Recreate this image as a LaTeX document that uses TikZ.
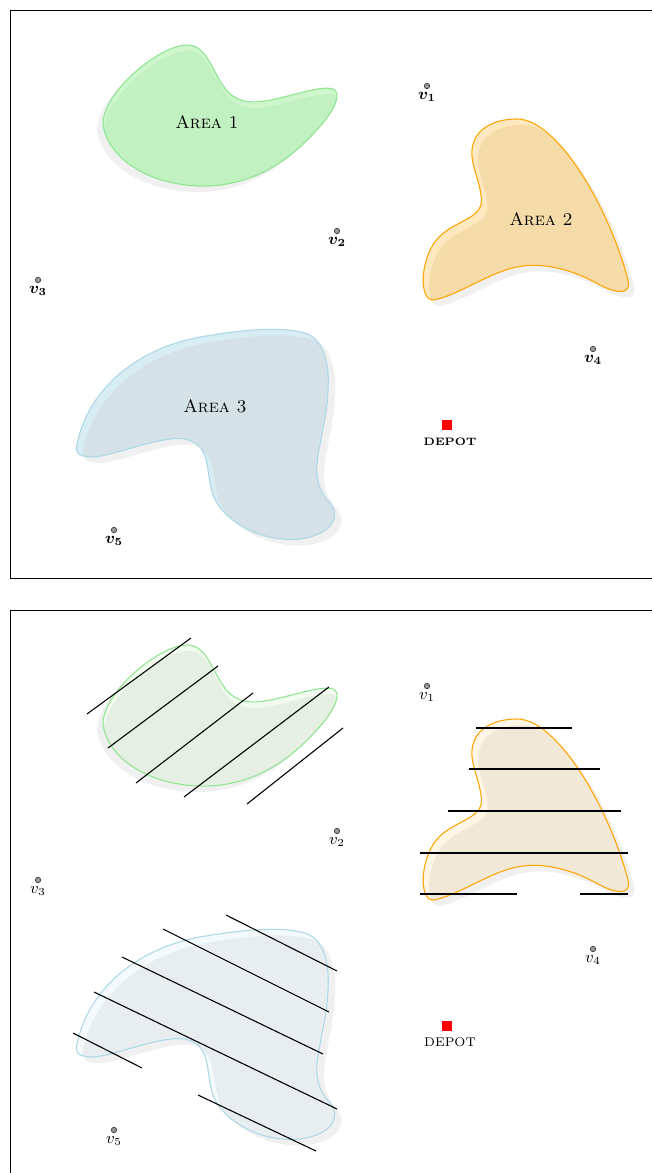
\documentclass[tikz,border=0pt]{standalone}
\usepackage{bm}
\definecolor{gA}{RGB}{193,240,193}\definecolor{gAl}{RGB}{205,246,205}\definecolor{gAo}{RGB}{144,230,144}
\definecolor{oA}{RGB}{245,219,168}\definecolor{oAl}{RGB}{253,232,192}\definecolor{oAo}{RGB}{255,165,0}
\definecolor{bA}{RGB}{212,226,232}\definecolor{bAl}{RGB}{216,236,243}\definecolor{bAo}{RGB}{173,216,230}
\definecolor{gB}{RGB}{229,239,227}\definecolor{gBl}{RGB}{242,251,240}
\definecolor{oB}{RGB}{242,232,216}\definecolor{oBl}{RGB}{255,246,232}
\definecolor{bB}{RGB}{232,238,240}\definecolor{bBl}{RGB}{244,250,252}
\newcommand\drawblob[7]{%
\begin{scope}[shift={#1}]
\fill[shadowc, shift={#2}] #7;
\fill[#4] #7;
\begin{scope}
\clip #7;
\fill[#5, shift={#3}] #7;
\end{scope}
\draw[#6, line width=0.6pt] #7;
\end{scope}}
\newcommand\shapeone{(187,45) .. controls (205,45) and (210,65) .. (222,84) .. controls (232,100) and (245,104) .. (265,101) .. controls (290,97) and (320,85) .. (333,89) .. controls (342,93) and (335,108) .. (323,123) .. controls (300,150) and (265,183) .. (210,186) .. controls (160,188) and (110,165) .. (103,125) .. controls (102,92) and (160,45) .. (187,45) -- cycle}
\newcommand\shapetwo{(517,119) .. controls (558,119) and (610,210) .. (628,280) .. controls (632,296) and (615,293) .. (600,285) .. controls (570,268) and (540,262) .. (517,267) .. controls (490,272) and (455,297) .. (433,300) .. controls (418,300) and (420,255) .. (440,236) .. controls (455,222) and (478,218) .. (481,205) .. controls (484,190) and (470,165) .. (472,150) .. controls (474,128) and (495,119) .. (517,119) -- cycle}
\newcommand\shapethree{(78,440) .. controls (88,395) and (130,350) .. (200,337) .. controls (240,330) and (280,326) .. (305,333) .. controls (320,338) and (330,355) .. (328,390) .. controls (327,415) and (322,430) .. (320,445) .. controls (313,475) and (318,490) .. (330,503) .. controls (342,518) and (330,535) .. (300,539) .. controls (260,543) and (222,520) .. (213,495) .. controls (205,470) and (212,445) .. (185,439) .. controls (160,435) and (110,458) .. (90,457) .. controls (75,456) and (75,450) .. (78,440) -- cycle}
\begin{document}
\begin{tikzpicture}[x=0.555pt,y=-0.555pt,
  shadowc/.style={fill=black!6},
  frame/.style={draw=black, line width=0.45pt},
  vtx/.style={circle, fill=black!40, draw=black!75, line width=0.4pt, inner sep=0pt, minimum size=3pt},
  vlab/.style={inner sep=0pt, font=\small},
  depot/.style={fill=red, inner sep=0pt, minimum size=5.6pt},
  deplab/.style={inner sep=0pt},
  arealab/.style={inner sep=0pt},
  hatch/.style={draw=black, line width=0.6pt}]
\useasboundingbox (0,0) rectangle (652,1173);
\clip (0,0) rectangle (652,1173);
\fill[white] (0,0) rectangle (652,1173);
% ---------- top panel ----------
\draw[frame] (10,10) rectangle (700,578);
\drawblob{(0,0)}{(-6,6)}{(1,6)}{gAl}{gA}{gAo}{\shapeone}
\drawblob{(0,0)}{(6,6)}{(6,6)}{oAl}{oA}{oAo}{\shapetwo}
\drawblob{(0,0)}{(7,6)}{(6,6)}{bAl}{bA}{bAo}{\shapethree}
\node[arealab] (a1) at (207,122) {\textsc{Area 1}};
\node[arealab] (a2) at (541,219) {\textsc{Area 2}};
\node[arealab] (a3) at (215,406) {\textsc{Area 3}};
\node[vtx] (v1) at (427,86) {};
\node[vlab] (v1l) at (427,97) {$\bm{v_1}$};
\node[vtx] (v2) at (337,231) {};
\node[vlab] (v2l) at (337,242) {$\bm{v_2}$};
\node[vtx] (v3) at (38,280) {};
\node[vlab] (v3l) at (38,291) {$\bm{v_3}$};
\node[vtx] (v4) at (593,349) {};
\node[vlab] (v4l) at (593,360) {$\bm{v_4}$};
\node[vtx] (v5) at (114,530) {};
\node[vlab] (v5l) at (114,541) {$\bm{v_5}$};
\node[depot] (d) at (447,425) {};
\node[deplab] (dl) at (450,442) {\fontsize{6}{7}\selectfont\bfseries DEPOT};
% ---------- bottom panel ----------
\draw[frame] (10,610) rectangle (700,1200);
\drawblob{(0,600)}{(-6,6)}{(1,6)}{gBl}{gB}{gAo}{\shapeone}
\drawblob{(0,600)}{(6,6)}{(6,6)}{oBl}{oB}{oAo}{\shapetwo}
\drawblob{(0,600)}{(7,6)}{(6,6)}{bBl}{bB}{bAo}{\shapethree}
\node[vtx] (w1) at (427,686) {};
\node[vlab] (w1l) at (427,697) {$v_1$};
\node[vtx] (w2) at (337,831) {};
\node[vlab] (w2l) at (337,842) {$v_2$};
\node[vtx] (w3) at (38,880) {};
\node[vlab] (w3l) at (38,891) {$v_3$};
\node[vtx] (w4) at (593,949) {};
\node[vlab] (w4l) at (593,960) {$v_4$};
\node[vtx] (w5) at (114,1130) {};
\node[vlab] (w5l) at (114,1141) {$v_5$};
\node[depot] (e) at (447,1026) {};
\node[deplab] (el) at (450,1042) {\scriptsize DEPOT};
% hatch lines area 1
\draw[hatch] (87,714) -- (191,638);
\draw[hatch] (108,748) -- (218,666);
\draw[hatch] (136,783) -- (253,693);
\draw[hatch] (184,797) -- (329,687);
\draw[hatch] (247,804) -- (343,728);
% hatch lines area 2
\draw[hatch] (476,728) -- (572,728);
\draw[hatch] (469,769) -- (600,769);
\draw[hatch] (448,811) -- (621,811);
\draw[hatch] (420,853) -- (628,853);
\draw[hatch] (420,894) -- (517,894);
\draw[hatch] (580,894) -- (628,894);
% hatch lines area 3
\draw[hatch] (226,915) -- (337,971);
\draw[hatch] (163,929) -- (329,1012);
\draw[hatch] (122,957) -- (323,1054);
\draw[hatch] (94,992) -- (337,1109);
\draw[hatch] (73,1033) -- (142,1068);
\draw[hatch] (198,1095) -- (316,1151);
\end{tikzpicture}
\end{document}
